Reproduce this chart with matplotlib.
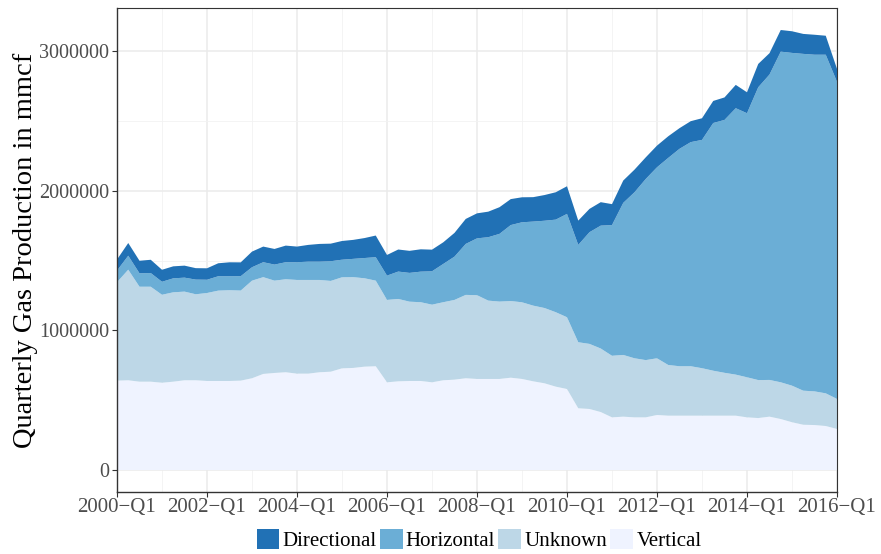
import matplotlib
matplotlib.use("Agg")
import matplotlib.pyplot as plt
import matplotlib.patches as mpatches
from matplotlib.ticker import MultipleLocator, FixedLocator
import numpy as np

# Quarterly gas production by well type, 2000-Q1 .. 2016-Q1 (mmcf)
start_year = 2000
n_quarters = 65

vertical = [
    640000, 642500, 632500, 632500, 625000, 632500, 642500, 642500,
    637500, 637500, 637500, 640000, 657000, 688000, 695000, 700000,
    690000, 690000, 700000, 704000, 728000, 731000, 740000, 743000,
    628000, 635000, 637500, 637500, 628000, 642500, 647000, 657000,
    652000, 652000, 652000, 661000, 652000, 635000, 621000, 597000,
    580000, 442000, 437000, 415000, 377000, 382000, 377000, 377000,
    394000, 389000, 389000, 389000, 389000, 389000, 389000, 389000,
    377000, 372000, 382000, 365000, 342000, 324000, 322000, 315000,
    294000,
]
unknown = [
    705000, 792000, 680000, 680000, 630000, 640000, 635000, 616000,
    630000, 647000, 650000, 645000, 699000, 693000, 661000, 666000,
    671000, 671000, 661000, 650000, 652000, 650000, 633000, 613000,
    590000, 590000, 568000, 564000, 556000, 559000, 571000, 597000,
    600000, 561000, 554000, 549000, 549000, 542000, 539000, 533000,
    514000, 473000, 466000, 455000, 441000, 442000, 423000, 410000,
    406000, 363000, 354000, 354000, 340000, 322000, 307000, 294000,
    287000, 272000, 263000, 263000, 262000, 244000, 241000, 234000,
    215000,
]
horizontal = [
    83000, 100000, 96000, 98000, 93000, 100000, 100000, 105000,
    95000, 103000, 100000, 103000, 96000, 107000, 115000, 122000,
    127000, 131000, 131000, 141000, 126000, 131000, 145000, 168000,
    174000, 196000, 206000, 219000, 239000, 274000, 310000, 365000,
    407000, 454000, 485000, 544000, 573000, 602000, 625000, 663000,
    740000, 697000, 800000, 880000, 936000, 1089000, 1189000, 1297000,
    1368000, 1483000, 1557000, 1605000, 1635000, 1774000, 1811000, 1908000,
    1891000, 2097000, 2187000, 2368000, 2383000, 2412000, 2411000, 2425000,
    2271000,
]
directional = [
    79000, 91000, 90000, 95000, 86000, 86000, 86000, 82000,
    82000, 93000, 100000, 99000, 112000, 112000, 112000, 119000,
    112000, 120000, 127000, 126000, 134000, 136000, 143000, 155000,
    148000, 158000, 158000, 160000, 155000, 155000, 170000, 179000,
    179000, 183000, 191000, 186000, 179000, 175000, 184000, 196000,
    198000, 174000, 167000, 168000, 150000, 160000, 162000, 155000,
    155000, 155000, 148000, 150000, 155000, 158000, 161000, 167000,
    150000, 167000, 153000, 155000, 155000, 143000, 143000, 136000,
    93000,
]

labels = ["Directional", "Horizontal", "Unknown", "Vertical"]
colors = {"Directional": "#2171b5", "Horizontal": "#6baed6",
          "Unknown": "#bdd7e7", "Vertical": "#eff3ff"}

year_ticks = list(range(2000, 2017, 2))
year_tick_labels = [f"{y}\u2212Q1" for y in year_ticks]
y_ticks = [0, 1000000, 2000000, 3000000]

plt.rcParams["font.family"] = ["Liberation Serif", "DejaVu Serif"]

t = start_year + np.arange(n_quarters) / 4.0

fig = plt.figure(figsize=(8.81, 5.54), dpi=100)
ax = fig.add_axes([117 / 881, 1 - 492 / 554, 720 / 881, 484 / 554])

ax.stackplot(t, vertical, unknown, horizontal, directional,
             colors=[colors["Vertical"], colors["Unknown"],
                     colors["Horizontal"], colors["Directional"]],
             linewidth=0, zorder=2)

total = np.array(vertical) + np.array(unknown) + np.array(horizontal) + np.array(directional)
ymax = total.max()
pad = 0.05 * ymax
ax.set_ylim(-pad, ymax + pad)
ax.set_xlim(t[0], t[-1])

ax.xaxis.set_major_locator(FixedLocator(year_ticks))
ax.set_xticklabels(year_tick_labels)
ax.xaxis.set_minor_locator(MultipleLocator(1))
ax.yaxis.set_major_locator(FixedLocator(y_ticks))
ax.set_yticklabels([str(v) for v in y_ticks])
ax.yaxis.set_minor_locator(MultipleLocator(500000))

ax.grid(which="major", color="#ebebeb", linewidth=1.1, zorder=0)
ax.grid(which="minor", color="#f2f2f2", linewidth=0.6, zorder=0)
ax.set_axisbelow(True)

ax.tick_params(axis="both", which="major", length=3.5, width=0.8,
               color="#333333", labelcolor="#4d4d4d")
ax.tick_params(axis="y", which="major", labelsize=14.5, pad=2)
ax.tick_params(axis="x", which="major", labelsize=15, pad=0.5)
ax.tick_params(axis="both", which="minor", length=0)

for side in ["left", "bottom"]:
    ax.spines[side].set_color("#333333")
    ax.spines[side].set_linewidth(1.0)
for side in ["top", "right"]:
    ax.spines[side].set_color("#333333")
    ax.spines[side].set_linewidth(0.8)

ax.set_ylabel("Quarterly Gas Production in mmcf", fontsize=20.5, color="black",
              labelpad=1)

handles = [mpatches.Patch(facecolor=colors[l], edgecolor="none", label=l) for l in labels]
fig.legend(handles=handles, loc="center", bbox_to_anchor=(479 / 881, 1 - 540 / 554),
           ncol=4, frameon=False, fontsize=15, handlelength=1.1, handleheight=1.1,
           handletextpad=0.15, columnspacing=0.15, borderaxespad=0)

fig.savefig("out.png", dpi=100, facecolor="white")
